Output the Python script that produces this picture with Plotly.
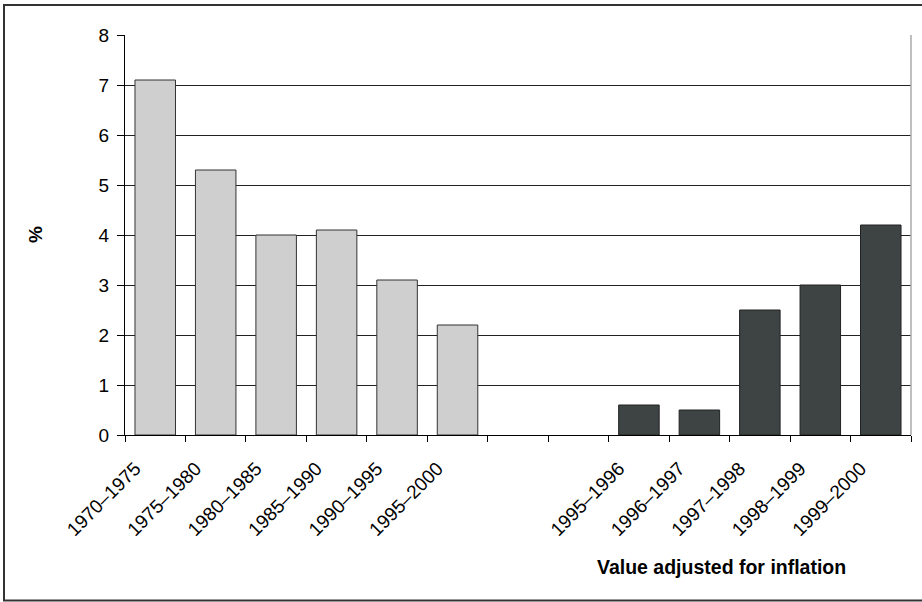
import plotly.graph_objects as go

nominal_cats = ["1970–1975", "1975–1980", "1980–1985", "1985–1990", "1990–1995", "1995–2000"]
nominal_vals = [7.1, 5.3, 4.0, 4.1, 3.1, 2.2]
gap_cats = [" ", "  "]
real_cats = ["1995–1996", "1996–1997", "1997–1998", "1998–1999", "1999–2000"]
real_vals = [0.6, 0.5, 2.5, 3.0, 4.2]
all_cats = nominal_cats + gap_cats + real_cats
y_ticks = [0, 1, 2, 3, 4, 5, 6, 7, 8]

FONT = "Liberation Sans, Arial, sans-serif"

L, R, T, B = 125, 911, 35, 435
W, H = 922, 602

def px(x):
    return (x - L) / (R - L)

def py(y):
    return (B - y) / (B - T)

fig = go.Figure()
fig.add_trace(go.Bar(x=nominal_cats, y=nominal_vals,
                     marker=dict(color="#cfcfcf", line=dict(color="#333333", width=1)),
                     showlegend=False))
fig.add_trace(go.Bar(x=real_cats, y=real_vals,
                     marker=dict(color="#3d4443", line=dict(color="#222222", width=1)),
                     showlegend=False))

fig.update_layout(
    width=W, height=H,
    margin=dict(l=L, r=W - R, t=T, b=H - B),
    plot_bgcolor="white", paper_bgcolor="white",
    barmode="overlay", bargap=0.33,
    font=dict(family=FONT, size=19, color="black"),
    xaxis=dict(type="category", categoryorder="array", categoryarray=all_cats,
               tickson="boundaries", ticks="outside", ticklen=6, tickcolor="black",
               showline=True, linecolor="black", linewidth=1, tickangle=-45,
               tickfont=dict(size=19), showgrid=False, range=[-0.5, 12.5],
               ticklabelshift=-20, ticklabelstandoff=14,
               automargin=False),
    yaxis=dict(range=[0, 8], tickvals=y_ticks, ticks="outside", ticklen=7, tickcolor="black",
               showline=True, linecolor="black", linewidth=1, showgrid=True,
               gridcolor="#222222", gridwidth=1, tickfont=dict(size=19), zeroline=False,
               ticklabelstandoff=4, automargin=False),
    shapes=[
        dict(type="rect", xref="paper", yref="paper", x0=px(4), x1=px(940), y0=py(600.5), y1=py(5),
             line=dict(color="#333333", width=2), layer="below"),
        dict(type="line", xref="paper", yref="paper", x0=1, x1=1, y0=0, y1=1,
             line=dict(color="#aaaaaa", width=1.5)),
    ],
    annotations=[
        dict(text="<b>%</b>", xref="paper", yref="paper", x=px(35), y=py(235), showarrow=False,
             font=dict(size=19), textangle=-90, xanchor="center", yanchor="middle"),
        dict(text="<b>Value adjusted for inflation</b>", xref="paper", yref="paper",
             x=px(721), y=py(567), showarrow=False,
             font=dict(size=19.5), xanchor="center", yanchor="middle"),
    ],
)

fig.write_html("out.html", config={"displayModeBar": False},
               post_script="document.body.style.margin='0';")
